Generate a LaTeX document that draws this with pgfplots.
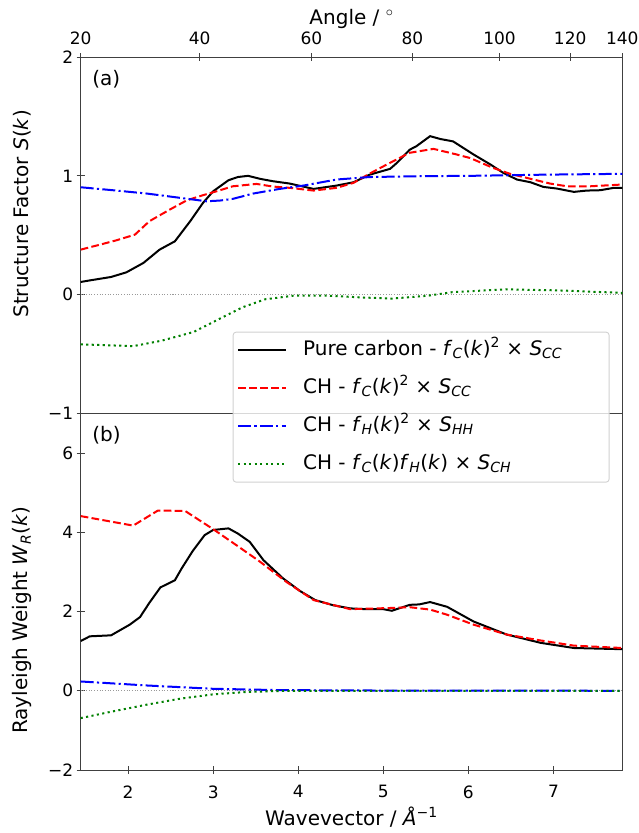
\documentclass[border=0pt]{standalone}
\usepackage{fontspec}
\setmainfont{DejaVu Sans}
\usepackage{pgfplots}
\pgfplotsset{compat=1.18}
\newcommand{\sub}[1]{\textsubscript{\itshape #1}}
\newcommand{\lab}{\fontsize{20}{24}\selectfont}
\newcommand{\tck}{\fontsize{17}{20}\selectfont}

\pgfplotsset{
  panel/.style={
    width=541.6pt, height=356.5pt, scale only axis,
    xmin=1.443, xmax=7.809,
    axis line style={black!75, line width=0.9pt},
    tick style={black!75, line width=0.9pt},
    tick align=center, major tick length=8pt,
    ytick pos=left,
    ticklabel style={font=\tck},
    label style={font=\lab},
  },
  cc/.style={black, line width=2pt},
  chcc/.style={red, line width=2pt, dash pattern=on 7.7pt off 3.3pt},
  chhh/.style={blue, line width=2pt, dash pattern=on 13pt off 3.3pt on 2.1pt off 3.3pt},
  chch/.style={green!50!black, line width=2pt, line cap=butt, dash pattern=on 2.1pt off 3.4pt},
  zero/.style={gray!80, line width=0.9pt, dash pattern=on 1pt off 1.7pt, forget plot},
}

\begin{document}
\begin{tikzpicture}

% panel (a): structure factor, angle axis on top
\begin{axis}[panel, name=pa,
  ymin=-1, ymax=2, ytick={-1,0,1,2}, yticklabels={−1,0,1,2},
  xtick pos=right, xticklabel pos=right,
  xtick={1.443,2.8422,4.155,5.3416,6.3658,7.1967,7.8088},
  xticklabels={20,40,60,80,100,120,140},
  xticklabel style={yshift=5pt},
  xlabel={Angle / $^\circ$},
  xlabel style={at={(axis description cs:0.5,1.108)}, anchor=center},
  ylabel={Structure Factor \textit{S}(\textit{k})},
  ylabel style={at={(axis description cs:-0.108,0.56)}, anchor=center},
]
\addplot[zero] coordinates {(1.443,0) (7.809,0)};
\addplot[cc] coordinates {
  (1.443,0.107) (1.55,0.12) (1.80,0.149) (1.98,0.188) (2.18,0.267) (2.37,0.379)
  (2.55,0.449) (2.73,0.618) (2.88,0.772) (3.00,0.87) (3.18,0.963) (3.29,0.99)
  (3.41,1.00) (3.55,0.975) (3.70,0.955) (3.90,0.935) (4.18,0.89) (4.45,0.918)
  (4.65,0.946) (4.84,1.01) (5.08,1.059) (5.16,1.109) (5.31,1.22) (5.39,1.25)
  (5.55,1.334) (5.67,1.31) (5.82,1.29) (6.06,1.18) (6.26,1.095) (6.41,1.025)
  (6.57,0.969) (6.73,0.946) (6.88,0.907) (7.04,0.893) (7.24,0.865) (7.39,0.876)
  (7.55,0.879) (7.71,0.899) (7.809,0.899)
};
\addplot[chcc] coordinates {
  (1.443,0.379) (1.67,0.421) (1.86,0.457) (2.08,0.505) (2.25,0.618) (2.49,0.716)
  (2.69,0.794) (2.88,0.837) (3.04,0.87) (3.23,0.912) (3.51,0.932) (3.70,0.91)
  (3.90,0.899) (4.18,0.876) (4.45,0.899) (4.65,0.941) (4.84,1.019) (5.04,1.095)
  (5.31,1.194) (5.59,1.227) (5.86,1.18) (6.02,1.15) (6.29,1.067) (6.49,1.017)
  (6.73,0.975) (6.96,0.935) (7.16,0.912) (7.43,0.912) (7.809,0.927)
};
\addplot[chhh] coordinates {
  (1.443,0.904) (1.82,0.879) (2.22,0.851) (2.61,0.815) (2.92,0.786) (3.08,0.792)
  (3.23,0.806) (3.47,0.851) (3.78,0.89) (4.06,0.918) (4.45,0.969) (4.84,0.99)
  (5.43,0.997) (6.02,1.0) (6.9,1.01) (7.809,1.017)
};
\addplot[chch] coordinates {
  (1.443,-0.418) (2.06,-0.433) (2.39,-0.388) (2.77,-0.314) (3.10,-0.194)
  (3.35,-0.105) (3.61,-0.039) (3.94,-0.009) (4.35,-0.009) (4.77,-0.024)
  (5.10,-0.033) (5.52,-0.009) (5.81,0.021) (6.44,0.045) (7.06,0.036) (7.809,0.015)
};
\node[anchor=west, font=\lab] at (axis description cs:0.015,0.938) {(a)};
\coordinate (abl) at (rel axis cs:0,0);
\end{axis}

% panel (b): Rayleigh weight
\begin{axis}[panel, at={(abl)}, anchor=north west,
  ymin=-2, ymax=7, ytick={-2,0,2,4,6}, yticklabels={−2,0,2,4,6},
  xtick pos=left,
  xtick={2,3,4,5,6,7}, xticklabels={2,3,4,5,6,7},
  xticklabel style={yshift=-8pt},
  xlabel={Wavevector / \textit{Å}\textsuperscript{−1}},
  xlabel style={at={(axis description cs:0.5,-0.132)}, anchor=center},
  ylabel={Rayleigh Weight \textit{W}\sub{R}(\textit{k})},
  ylabel style={at={(axis description cs:-0.108,0.42)}, anchor=center},
  legend style={at={(0.2806,1.2295)}, anchor=north west,
    draw=black!18, line width=0.9pt, rounded corners=3pt,
    fill=white, fill opacity=0.8, text opacity=1, font=\lab,
    inner xsep=4pt, inner ysep=5pt, row sep=12pt,
    nodes={text height=16pt, text depth=6pt}},
  legend cell align=left,
  legend image code/.code={\draw[#1] (0pt,0pt) -- (48pt,0pt);},
]
\addplot[zero] coordinates {(1.443,0) (7.809,0)};
\addplot[cc] coordinates {
  (1.443,1.256) (1.55,1.375) (1.80,1.40) (2.02,1.67) (2.14,1.86) (2.25,2.22)
  (2.38,2.61) (2.55,2.79) (2.63,3.09) (2.76,3.53) (2.90,3.93) (3.00,4.06)
  (3.18,4.10) (3.29,3.97) (3.43,3.76) (3.59,3.30) (3.82,2.84) (4.02,2.52)
  (4.20,2.29) (4.41,2.16) (4.61,2.08) (4.80,2.06) (5.00,2.06) (5.10,2.02)
  (5.31,2.17) (5.42,2.18) (5.55,2.24) (5.75,2.12) (6.06,1.75) (6.45,1.42)
  (6.85,1.21) (7.24,1.08) (7.809,1.05)
};
\addlegendentry{\hspace*{14pt}\makebox[300pt][l]{Pure carbon - \textit{f}\sub{C}(\textit{k})\textsuperscript{2} × \textit{S}\sub{CC}}}
\addplot[chcc] coordinates {
  (1.443,4.41) (2.06,4.17) (2.35,4.55) (2.67,4.54) (3.00,4.08) (3.27,3.68)
  (3.55,3.26) (3.86,2.75) (4.18,2.29) (4.61,2.06) (5.08,2.09) (5.31,2.11)
  (5.55,2.05) (5.75,1.92) (6.06,1.67) (6.45,1.42) (6.85,1.27) (7.24,1.14)
  (7.809,1.08)
};
\addlegendentry{\hspace*{14pt}CH - \textit{f}\sub{C}(\textit{k})\textsuperscript{2} × \textit{S}\sub{CC}}
\addplot[chhh] coordinates {
  (1.443,0.235) (2.22,0.134) (3.0,0.05) (3.78,0.017) (5.0,0.006) (7.809,0.0)
};
\addlegendentry{\hspace*{14pt}CH - \textit{f}\sub{H}(\textit{k})\textsuperscript{2} × \textit{S}\sub{HH}}
\addplot[chch] coordinates {
  (1.443,-0.69) (1.82,-0.52) (2.22,-0.35) (2.61,-0.20) (3.0,-0.09) (3.39,-0.03)
  (3.78,-0.005) (5.0,0.0) (7.809,0.0)
};
\addlegendentry{\hspace*{14pt}CH - \textit{f}\sub{C}(\textit{k})\textit{f}\sub{H}(\textit{k}) × \textit{S}\sub{CH}}
\node[anchor=west, font=\lab] at (axis description cs:0.015,0.938) {(b)};
\coordinate (bbl) at (rel axis cs:0,0);
\end{axis}

\pgfresetboundingbox
\path[use as bounding box] ([shift={(-80.7pt,-63pt)}]bbl) rectangle ([shift={(558.3pt,770pt)}]bbl);
\end{tikzpicture}
\end{document}
